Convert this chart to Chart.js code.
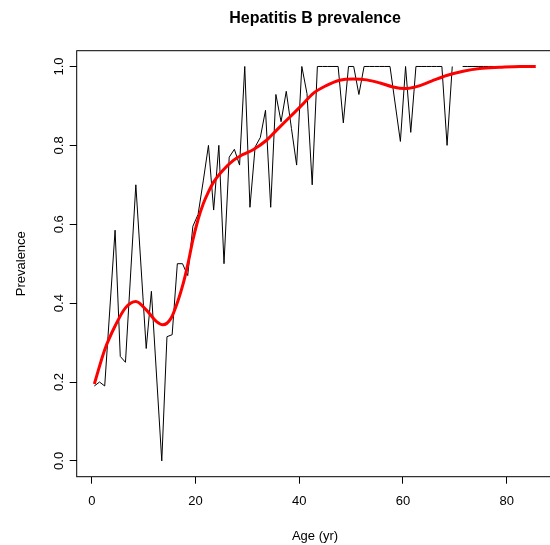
<!DOCTYPE html>
<html>
<head>
<meta charset="utf-8">
<script src="https://cdn.jsdelivr.net/npm/chart.js@4.4.1/dist/chart.umd.min.js"></script>
<style>
  html, body { margin: 0; padding: 0; background: #fff; overflow: hidden; }
  canvas { display: block; }
</style>
</head>
<body>
<canvas id="chartPrevalencia" width="560" height="545"></canvas>
<script>
// observed prevalence per age group (one NA at 70.5)
const ages = [
  0.5, 1.5, 2.5, 4.5, 5.5, 6.5, 8.5, 10.5, 11.5,
  13.5, 14.5, 15.5, 16.5, 17.5, 18.5, 19.5, 20.5, 21.5, 22.5,
  23.5, 24.5, 25.5, 26.5, 27.5, 28.5, 29.5, 30.5, 31.5, 32.5,
  33.5, 34.5, 35.5, 36.5, 37.5, 38.5, 39.5, 40.5, 41.5, 42.5,
  43.5, 44.5, 45.5, 46.5, 47.5, 48.5, 49.5, 50.5, 51.5, 52.5,
  53.5, 54.5, 55.5, 56.5, 57.5, 59.5, 60.5, 61.5, 62.5, 63.5,
  64.5, 65.5, 66.5, 67.5, 68.5, 69.5, 70.5, 71.5, 72.5, 73.5,
  74.5, 75.5, 76.5, 77.5
];
const prevalence = [
  0.19, 0.20, 0.19, 0.585, 0.265, 0.25, 0.70, 0.285, 0.43,
  0.0, 0.315, 0.32, 0.50, 0.50, 0.47, 0.595, 0.625, 0.71, 0.80,
  0.636, 0.80, 0.50, 0.77, 0.79, 0.75, 1.0, 0.643, 0.796, 0.82,
  0.889, 0.643, 0.929, 0.86, 0.937, 0.843, 0.75, 1.0, 0.931, 0.70,
  1.0, 1.0, 1.0, 1.0, 1.0, 0.857, 1.0, 1.0, 0.929, 1.0,
  1.0, 1.0, 1.0, 1.0, 1.0, 0.81, 1.0, 0.833, 1.0, 1.0,
  1.0, 1.0, 1.0, 1.0, 0.80, 1.0, null, 1.0, 1.0, 1.0,
  1.0, 1.0, 1.0, 1.0
];

// smoothed fit
const fitAges = [
  0.5, 2.5, 4.5, 6.5, 8.5, 10.5, 12.5, 13.7, 15.3, 16.6,
  17.6, 18.5, 19.5, 20.5, 21.5, 22.5, 23.4, 25.3, 27.3, 29.2,
  31.1, 33.7, 35.6, 38.2, 40.5, 42.7, 45.3, 47.8, 50.4, 53.0,
  55.6, 58.1, 60.4, 62.6, 65.5, 68.4, 71.6, 74.8, 78.7, 82.6,
  85.6
];
const fitPrev = [
  0.195, 0.282, 0.342, 0.388, 0.404, 0.383, 0.353, 0.345, 0.362, 0.405,
  0.448, 0.497, 0.560, 0.612, 0.652, 0.682, 0.705, 0.737, 0.762, 0.777,
  0.789, 0.813, 0.838, 0.872, 0.902, 0.932, 0.952, 0.965, 0.968, 0.966,
  0.958, 0.948, 0.944, 0.949, 0.963, 0.977, 0.988, 0.995, 0.998, 1.0,
  1.0
];

const xTicks = [0, 20, 40, 60, 80];
const xTickLabels = ['0', '20', '40', '60', '80'];
const yTicks = [0, 0.2, 0.4, 0.6, 0.8, 1.0];
const yTickLabels = ['0.0', '0.2', '0.4', '0.6', '0.8', '1.0'];

const titulo = 'Hepatitis B prevalence';
const xTitulo = 'Age (yr)';
const yTitulo = 'Prevalence';

const fuente = '"Liberation Sans", Arial, sans-serif';

// box, title and axis text drawn R-style
const marcoPlugin = {
  id: 'marco',
  afterDraw(chart) {
    const ctx = chart.ctx;
    const area = chart.chartArea;
    const xs = chart.scales.x;
    const ys = chart.scales.y;
    ctx.save();
    ctx.strokeStyle = '#000';
    ctx.lineWidth = 1;
    ctx.strokeRect(area.left, area.top, area.right - area.left, area.bottom - area.top);

    ctx.fillStyle = '#000';
    ctx.font = 'bold 16px ' + fuente;
    ctx.textAlign = 'center';
    ctx.textBaseline = 'alphabetic';
    ctx.fillText(titulo, (area.left + area.right) / 2, 23);

    ctx.font = '13px ' + fuente;
    xTicks.forEach((v, i) => {
      ctx.fillText(xTickLabels[i], xs.getPixelForValue(v), 505);
    });
    ctx.fillText(xTitulo, (area.left + area.right) / 2, 540);

    yTicks.forEach((v, i) => {
      ctx.save();
      ctx.translate(62.5, ys.getPixelForValue(v));
      ctx.rotate(-Math.PI / 2);
      ctx.fillText(yTickLabels[i], 0, 0);
      ctx.restore();
    });
    ctx.save();
    ctx.translate(25, (area.top + area.bottom) / 2);
    ctx.rotate(-Math.PI / 2);
    ctx.fillText(yTitulo, 0, 0);
    ctx.restore();
    ctx.restore();
  }
};

const context = document.getElementById('chartPrevalencia').getContext('2d');

const chartPrevalencia = new Chart(context, {
  type: 'scatter',
  data: {
    datasets: [
      {
        label: 'Observed',
        data: ages.map((a, i) => ({ x: a, y: prevalence[i] })),
        showLine: true,
        spanGaps: false,
        borderColor: '#000',
        borderWidth: 1,
        pointRadius: 0,
        tension: 0,
        order: 2
      },
      {
        label: 'Fit',
        data: fitAges.map((a, i) => ({ x: a, y: fitPrev[i] })),
        showLine: true,
        borderColor: '#ff0000',
        borderWidth: 3,
        pointRadius: 0,
        cubicInterpolationMode: 'monotone',
        order: 1
      }
    ]
  },
  options: {
    responsive: false,
    animation: false,
    devicePixelRatio: 1,
    layout: { padding: { top: 50.7, right: 6.6, left: 0, bottom: 0 } },
    plugins: {
      legend: { display: false },
      tooltip: { enabled: false },
      title: { display: false }
    },
    scales: {
      x: {
        type: 'linear',
        min: -2.9,
        max: 89.0,
        afterBuildTicks: (scale) => { scale.ticks = xTicks.map(v => ({ value: v })); },
        afterFit: (scale) => { scale.height = 68.3; },
        ticks: { display: false },
        border: { display: false },
        grid: { drawOnChartArea: false, drawTicks: true, tickLength: 7, color: '#000', lineWidth: 1 }
      },
      y: {
        type: 'linear',
        min: -0.04,
        max: 1.04,
        afterBuildTicks: (scale) => { scale.ticks = yTicks.map(v => ({ value: v })); },
        afterFit: (scale) => { scale.width = 76.7; },
        ticks: { display: false },
        border: { display: false },
        grid: { drawOnChartArea: false, drawTicks: true, tickLength: 7, color: '#000', lineWidth: 1 }
      }
    }
  },
  plugins: [marcoPlugin]
});
</script>
</body>
</html>
